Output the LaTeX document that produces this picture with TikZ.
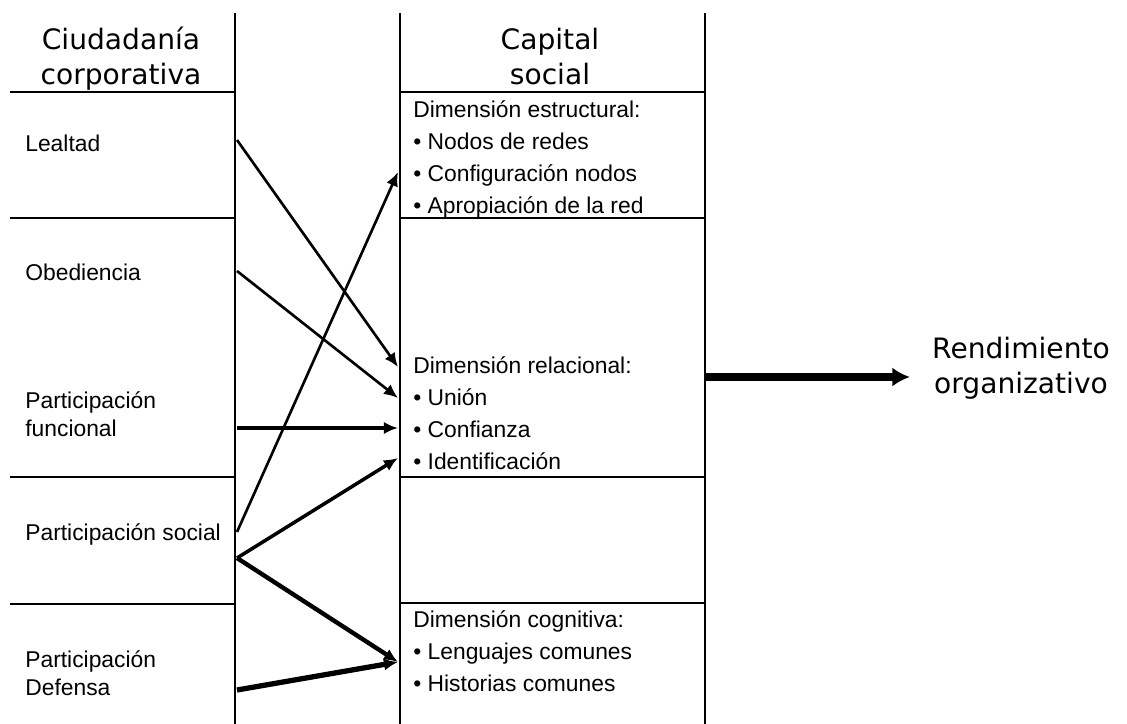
\documentclass[tikz,border=0pt]{standalone}
\usepackage{fontspec}
\setmainfont{Liberation Sans}
\newfontfamily\headfont{DejaVu Sans}
\usetikzlibrary{arrows.meta}
\tikzset{
        rule/.style={line width=1.1pt},
        item/.style={inner sep=0pt, anchor=base west, align=left,
            font=\fontsize{13}{15.6}\selectfont},
        dimtext/.style={inner sep=0pt, anchor=base west, align=left,
            font=\fontsize{13}{18.2}\selectfont},
        heading/.style={inner sep=0pt, anchor=base, align=center,
            font=\headfont\fontsize{16}{19.9}\selectfont},
        link/.style={line width=#1, -{Latex[length=8pt,width=7pt]}},
        link/.default=1.5pt,
    }

\begin{document}
\begin{tikzpicture}[x = 0.02cm, y = -0.02cm]
                \useasboundingbox (0,0) rectangle (1127,724);
                % columns and rows
                \foreach \x in {235,400,705}
                    \draw[rule] (\x,13) -- (\x,724);
                \foreach \y in {92,218,477,604}
                    \draw[rule] (10,\y) -- (235,\y);
                \foreach \y in {92,218,477,603}
                    \draw[rule] (400,\y) -- (705,\y);
                % headings (placed at the baseline of the last line)
                \node[heading] (ciudadania) at (121,84) {Ciudadanía\\corporativa};
                \node[heading] (capital) at (550,84) {Capital\\social};
                \node[heading] (rendimiento) at (1021,393) {Rendimiento\\organizativo};
                % left column
                \node[item] (lealtad) at (25,151) {Lealtad};
                \node[item] (obediencia) at (25,280) {Obediencia};
                \node[item] (funcional) at (25,436) {Participación\\funcional};
                \node[item] (psocial) at (25,540) {Participación social};
                \node[item] (defensa) at (25,695) {Participación\\Defensa};
                % middle column
                \node[dimtext] (estructural) at (413,213) {Dimensión estructural:\\
                    \textbullet\ Nodos de redes\\
                    \textbullet\ Configuración nodos\\
                    \textbullet\ Apropiación de la red};
                \node[dimtext] (relacional) at (413,469) {Dimensión relacional:\\
                    \textbullet\ Unión\\
                    \textbullet\ Confianza\\
                    \textbullet\ Identificación};
                \node[dimtext] (cognitiva) at (413,691) {Dimensión cognitiva:\\
                    \textbullet\ Lenguajes comunes\\
                    \textbullet\ Historias comunes};
                % arrow ends on the column borders
                \coordinate (lealtad-out) at (237,140);
                \coordinate (obediencia-out) at (237,271);
                \coordinate (funcional-out) at (237,428);
                \coordinate (psocial-up) at (237,532);
                \coordinate (psocial-out) at (237,558);
                \coordinate (defensa-out) at (237,690);
                \coordinate (estructural-in) at (398,172);
                \coordinate (relacional-a) at (398,367);
                \coordinate (relacional-b) at (398,398);
                \coordinate (relacional-c) at (398,428);
                \coordinate (relacional-d) at (398,458);
                \coordinate (cognitiva-in) at (398,662);
                \coordinate (capital-out) at (705,377);
                % links
                \draw[link] (lealtad-out) -- (relacional-a);
                \draw[link] (obediencia-out) -- (relacional-b);
                \draw[link=2.2pt] (funcional-out) -- (relacional-c);
                \draw[link] (psocial-up) -- (estructural-in);
                \draw[link=2pt] (psocial-out) -- (relacional-d);
                \draw[link=2.5pt] (psocial-out) -- (cognitiva-in);
                \draw[link=3pt] (defensa-out) -- (cognitiva-in);
                \draw[line width=4pt, -{Latex[length=10pt,width=11pt]}, shorten >=0.44cm]
                    (capital-out) -- (capital-out -| rendimiento.west);
            \end{tikzpicture}
\end{document}
